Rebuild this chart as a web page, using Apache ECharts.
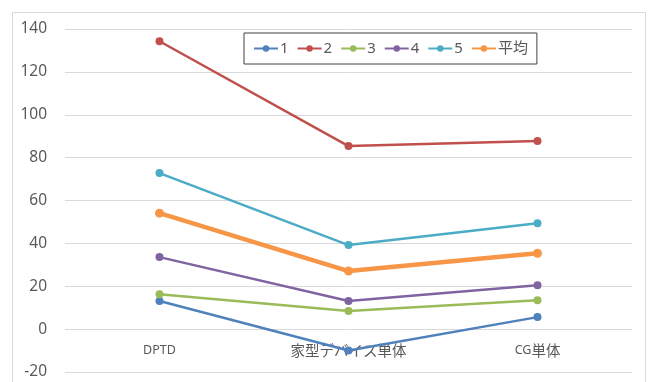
<!DOCTYPE html>
<html><head><meta charset="utf-8">
<script src="https://cdn.jsdelivr.net/npm/echarts@6/dist/echarts.min.js"></script>
<style>html,body{margin:0;padding:0;background:#fff}#c{width:650px;height:382px}</style>
</head><body><div id="c"></div>
<script>
const categories = ['DPTD', '家型デバイス単体', 'CG単体'];
const seriesNames = ['1', '2', '3', '4', '5', '平均'];
const s1 = [13.1, -10, 5.6];
const s2 = [134.3, 85.4, 87.7];
const s3 = [16.3, 8.4, 13.5];
const s4 = [33.6, 13.1, 20.5];
const s5 = [72.8, 39.2, 49.4];
const sAvg = [54.1, 27.1, 35.4];
const yTicks = [-20, 0, 20, 40, 60, 80, 100, 120, 140];

const colors = ['#4F81BD', '#C0504D', '#9BBB59', '#8064A2', '#4BACC6', '#F79646'];
const data = [s1, s2, s3, s4, s5, sAvg];
const FONT = '"Noto Sans", "Noto Sans CJK JP", sans-serif';
const JFONT = '"Noto Sans CJK JP", sans-serif';

const GRID_TOP = 29, GRID_BOTTOM = 10, H = 382;
const yMin = yTicks[0], yMax = yTicks[yTicks.length - 1];
const plotH = H - GRID_TOP - GRID_BOTTOM;
// place category axis on the zero line
const zeroOffset = -((0 - yMin) / (yMax - yMin)) * plotH;

const chart = echarts.init(document.getElementById('c'));
chart.setOption({
  animation: false,
  color: colors,
  graphic: [{
    type: 'rect', silent: true, z: -10,
    shape: { x: 12.5, y: 12.5, width: 633, height: 420 },
    style: { fill: 'none', stroke: '#d9d9d9', lineWidth: 1 }
  }],
  legend: {
    data: seriesNames,
    left: 244, top: 33,
    padding: [8, 9, 8, 9],
    borderColor: '#404040', borderWidth: 1,
    itemWidth: 24, itemHeight: 8, itemGap: 8,
    textStyle: { fontFamily: FONT, fontSize: 15, color: '#595959', padding: [0, 0, 0, -3] }
  },
  grid: { left: 65, right: 18, top: GRID_TOP, bottom: GRID_BOTTOM, containLabel: false, outerBoundsMode: 'none' },
  xAxis: {
    type: 'category',
    data: categories,
    boundaryGap: true,
    position: 'bottom',
    offset: zeroOffset,
    axisLine: { show: false, onZero: false },
    axisTick: { show: false },
    axisLabel: {
      fontFamily: FONT, fontSize: 12.5, lineHeight: 17, color: '#595959', margin: 13,
      formatter: v => v.replace(/([^\x00-\x7F]+)/g, '{j|$1}'),
      rich: { j: { fontFamily: JFONT, fontSize: 14.5, lineHeight: 17, color: '#595959' } }
    },
    z: 0
  },
  yAxis: {
    type: 'value',
    min: yMin, max: yMax, interval: 20,
    axisLine: { show: false },
    axisTick: { show: false },
    axisLabel: { fontFamily: FONT, fontSize: 15.5, color: '#595959', margin: 18 },
    splitLine: { lineStyle: { color: '#d9d9d9', width: 1 } }
  },
  series: seriesNames.map((n, i) => ({
    name: n,
    type: 'line',
    data: data[i],
    symbol: 'circle',
    symbolSize: i === 5 ? 9 : 8,
    lineStyle: { width: i === 5 ? 4.5 : 2.5, color: colors[i] },
    itemStyle: { color: colors[i] },
    z: 3 + i
  }))
});
</script></body></html>
